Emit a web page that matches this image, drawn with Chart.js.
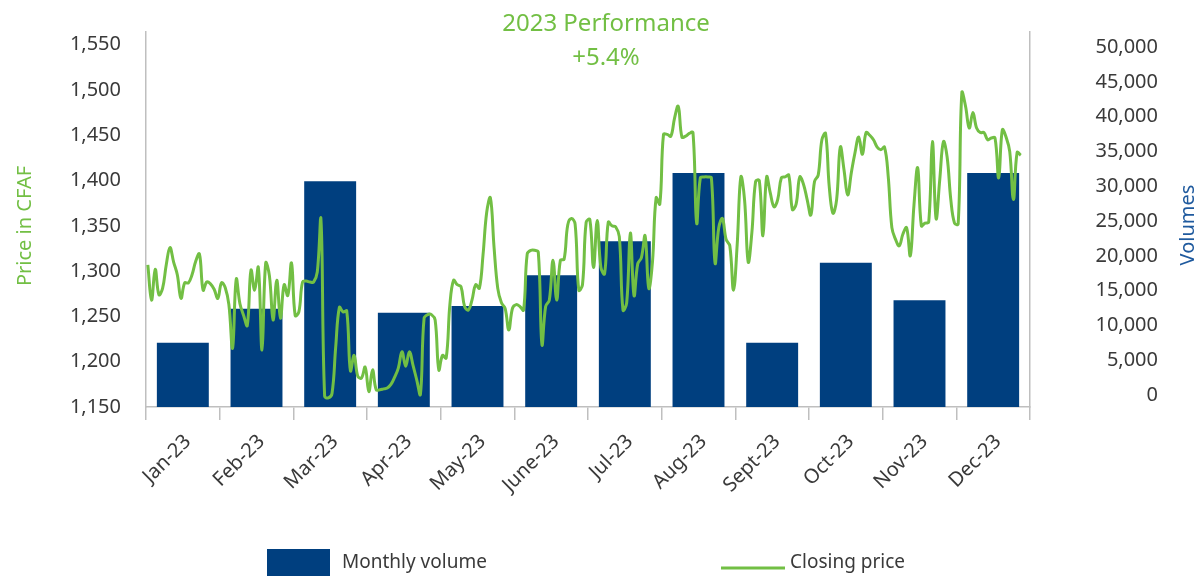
<!DOCTYPE html>
<html>
<head>
<meta charset="utf-8">
<title>2023 Performance</title>
<script src="https://cdn.jsdelivr.net/npm/chart.js@4.4.1/dist/chart.umd.min.js"></script>
<style>
  html, body { margin: 0; padding: 0; background: #ffffff; }
  canvas { display: block; }
</style>
</head>
<body>
<canvas id="perfChart" width="1204" height="578"></canvas>
<script>
// Months on the category axis
const months = ['Jan-23', 'Feb-23', 'Mar-23', 'Apr-23', 'May-23', 'June-23',
                'Jul-23', 'Aug-23', 'Sept-23', 'Oct-23', 'Nov-23', 'Dec-23'];

// Monthly traded volume (shares)
const monthlyVolume = [7500, 12400, 30700, 11800, 12800, 17200,
                       22100, 31900, 7500, 19000, 13600, 31900];

// Daily closing prices (CFAF), one list per month
const closeJan = [1307, 1268, 1302, 1274, 1281, 1307, 1326, 1310, 1296, 1270,
                  1287, 1287, 1296, 1311, 1319, 1279, 1288, 1286, 1280, 1270];
const closeFeb = [1287, 1282, 1263, 1215, 1291, 1264, 1251, 1240, 1301, 1279,
                  1304, 1213, 1309, 1295, 1246, 1290, 1248, 1285, 1273, 1309];
const closeMar = [1251, 1255, 1288, 1289, 1288, 1288, 1299, 1357, 1162, 1160,
                  1165, 1216, 1260, 1255, 1256, 1190, 1207, 1184, 1182, 1194];
const closeApr = [1167, 1191, 1169, 1169, 1170, 1171, 1175, 1183, 1193, 1211,
                  1195, 1211, 1196, 1180, 1164, 1248, 1252, 1252, 1246, 1191];
const closeMay = [1207, 1204, 1263, 1290, 1285, 1283, 1261, 1257, 1268, 1285,
                  1281, 1318, 1365, 1381, 1326, 1281, 1265, 1259, 1235, 1259];
const closeJun = [1263, 1261, 1257, 1319, 1323, 1323, 1321, 1219, 1261, 1268,
                  1312, 1268, 1312, 1313, 1351, 1358, 1352, 1279, 1285, 1354];
const closeJul = [1357, 1304, 1356, 1304, 1297, 1354, 1350, 1349, 1338, 1257,
                  1265, 1342, 1273, 1308, 1315, 1339, 1281, 1310, 1381, 1374];
const closeAug = [1451, 1451, 1449, 1469, 1482, 1448, 1449, 1452, 1453, 1353,
                  1403, 1404, 1404, 1403, 1309, 1348, 1358, 1335, 1328, 1279];
const closeSep = [1329, 1404, 1379, 1310, 1343, 1399, 1400, 1339, 1404, 1386,
                  1371, 1379, 1403, 1404, 1406, 1368, 1374, 1404, 1396, 1379];
const closeOct = [1362, 1399, 1406, 1445, 1452, 1393, 1364, 1379, 1437, 1412,
                  1384, 1409, 1431, 1448, 1429, 1453, 1450, 1445, 1437, 1434];
const closeNov = [1437, 1405, 1348, 1335, 1328, 1341, 1348, 1317, 1373, 1414,
                  1350, 1353, 1354, 1443, 1358, 1401, 1443, 1426, 1379, 1353];
const closeDec = [1352, 1497, 1482, 1458, 1475, 1458, 1453, 1453, 1445, 1447,
                  1447, 1403, 1456, 1448, 1432, 1379, 1431, 1428];

// Tick values on both value axes
const priceTicks = [1150, 1200, 1250, 1300, 1350, 1400, 1450, 1500, 1550];
const volumeTicks = [0, 5000, 10000, 15000, 20000, 25000, 30000, 35000, 40000, 45000, 50000];

const titleLines = ['2023 Performance', '+5.4%'];
const priceAxisTitle = 'Price in CFAF';
const volumeAxisTitle = 'Volumes';

const GREEN = '#72bf44';
const BLUE = '#003f7f';
const AXIS_GREY = '#bfbfbf';
const TEXT = '#3a3a3a';
const FONT = '"Noto Sans", sans-serif';

// trading-day slots per month on the hidden day axis
const SLOTS = 20;
const dailyClose = [closeJan, closeFeb, closeMar, closeApr, closeMay, closeJun,
                    closeJul, closeAug, closeSep, closeOct, closeNov, closeDec];
const pricePoints = [];
dailyClose.forEach((list, m) => {
  list.forEach((v, i) => pricePoints.push({ x: m + (i + 0.5) / SLOTS, y: v }));
});

// axis extents (secondary axis is offset against the primary one)
const PRICE_MIN = 1150, PRICE_MAX = 1564;
const VOL_MIN = -1724, VOL_MAX = 52155;

const fmt = v => Number(v).toLocaleString('en-US');

// titles, axis captions and legend drawn straight onto the canvas
const extras = {
  id: 'extras',
  afterDraw(chart) {
    const { ctx } = chart;
    const ds = chart.data.datasets;
    ctx.save();
    ctx.textBaseline = 'middle';

    ctx.fillStyle = GREEN;
    ctx.textAlign = 'center';
    ctx.font = '24px ' + FONT;
    ctx.fillText(titleLines[0], 606, 24);
    ctx.fillText(titleLines[1], 606, 58);

    ctx.font = '20px ' + FONT;
    ctx.save();
    ctx.translate(25, 226);
    ctx.rotate(-Math.PI / 2);
    ctx.fillText(priceAxisTitle, 0, 0);
    ctx.restore();

    ctx.fillStyle = '#1f5a9e';
    ctx.save();
    ctx.translate(1188, 225);
    ctx.rotate(-Math.PI / 2);
    ctx.fillText(volumeAxisTitle, 0, 0);
    ctx.restore();

    // legend
    ctx.textAlign = 'left';
    ctx.font = '19px ' + FONT;
    ctx.fillStyle = ds[1].backgroundColor;
    ctx.fillRect(267, 549, 63, 27);
    ctx.fillStyle = TEXT;
    ctx.fillText(ds[1].label, 342, 563);

    ctx.strokeStyle = ds[0].borderColor;
    ctx.lineWidth = 3;
    ctx.beginPath();
    ctx.moveTo(721, 568);
    ctx.lineTo(785, 568);
    ctx.stroke();
    ctx.fillStyle = TEXT;
    ctx.fillText(ds[0].label, 790, 563);
    ctx.restore();
  }
};

Chart.defaults.font.family = FONT;
Chart.defaults.color = TEXT;

new Chart(document.getElementById('perfChart'), {
  type: 'bar',
  data: {
    labels: months,
    datasets: [
      {
        type: 'line',
        label: 'Closing price',
        data: pricePoints,
        xAxisID: 'xDay',
        yAxisID: 'yPrice',
        borderColor: GREEN,
        backgroundColor: GREEN,
        borderWidth: 3,
        pointRadius: 0,
        tension: 0.4,
        fill: false,
        order: 0
      },
      {
        type: 'bar',
        label: 'Monthly volume',
        data: monthlyVolume,
        xAxisID: 'x',
        yAxisID: 'yVol',
        backgroundColor: BLUE,
        base: VOL_MIN,
        grouped: false,
        barPercentage: 0.705,
        categoryPercentage: 1.0,
        order: 1
      }
    ]
  },
  options: {
    responsive: false,
    animation: false,
    layout: { padding: { top: 32, left: 0, right: 46, bottom: 0 } },
    plugins: {
      legend: { display: false },
      title: { display: false },
      tooltip: { enabled: false }
    },
    scales: {
      x: {
        type: 'category',
        position: 'bottom',
        offset: true,
        grid: {
          display: true,
          offset: true,
          drawOnChartArea: false,
          drawTicks: true,
          tickLength: 13,
          color: AXIS_GREY,
          lineWidth: 1.5
        },
        border: { display: true, color: AXIS_GREY, width: 1.5 },
        ticks: {
          font: { size: 20 },
          color: TEXT,
          maxRotation: 45,
          minRotation: 45,
          padding: 10,
          labelOffset: 5
        },
        afterFit(scale) { scale.height = 171; }
      },
      xDay: {
        type: 'linear',
        display: false,
        offset: false,
        grid: { offset: false },
        min: 0,
        max: 12
      },
      yPrice: {
        type: 'linear',
        position: 'left',
        min: PRICE_MIN,
        max: PRICE_MAX,
        // invisible tick marks keep the labels clear of the axis line
        grid: {
          display: true,
          drawOnChartArea: false,
          drawTicks: true,
          tickLength: 21,
          color: 'rgba(0,0,0,0)'
        },
        border: { display: true, color: AXIS_GREY, width: 1.5 },
        ticks: {
          font: { size: 20 },
          color: TEXT,
          padding: 4,
          callback: v => fmt(v)
        },
        afterBuildTicks(scale) {
          scale.ticks = priceTicks.map(value => ({ value }));
        },
        afterFit(scale) { scale.width = 146; }
      },
      yVol: {
        type: 'linear',
        position: 'right',
        min: VOL_MIN,
        max: VOL_MAX,
        grid: { display: false, drawTicks: false },
        border: { display: true, color: AXIS_GREY, width: 1.5 },
        ticks: {
          font: { size: 20 },
          color: TEXT,
          crossAlign: 'far',
          padding: 4,
          callback: v => fmt(v)
        },
        afterBuildTicks(scale) {
          scale.ticks = volumeTicks.map(value => ({ value }));
        },
        afterFit(scale) { scale.width = 128; }
      }
    }
  },
  plugins: [extras]
});
</script>
</body>
</html>
